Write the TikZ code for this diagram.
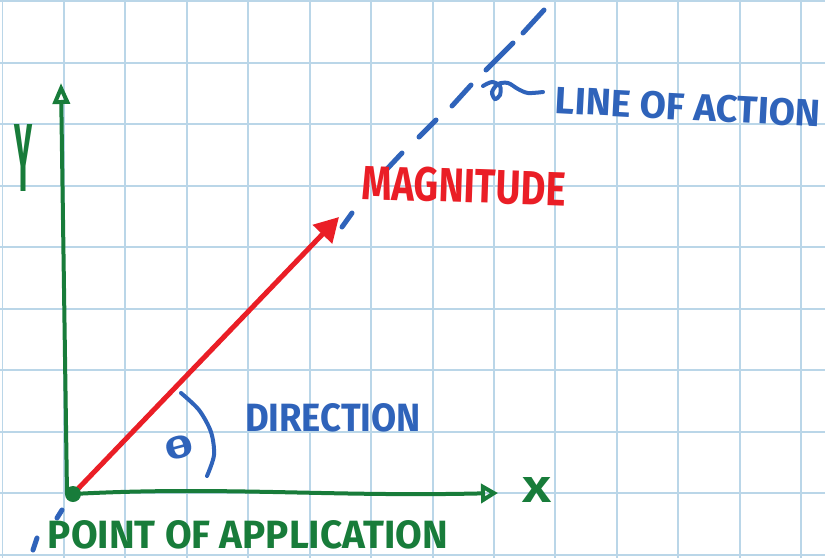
\documentclass[tikz,border=0pt]{standalone}
\usepackage{fontspec}
\setsansfont{Fira Sans}
\usetikzlibrary{arrows.meta}
\definecolor{gridblue}{RGB}{186,214,232}
\definecolor{penred}{RGB}{234,30,38}
\definecolor{pengreen}{RGB}{24,124,58}
\definecolor{penblue}{RGB}{47,99,186}
\newlength{\pxu}\setlength{\pxu}{0.02cm}
\newcommand{\hand}[3]{\resizebox{#1\pxu}{#2\pxu}{\sffamily\bfseries #3}}

\begin{document}
\begin{tikzpicture}[
  x=0.02cm,y=-0.02cm,
  gridline/.style={gridblue,line width=0.04cm},
  axis/.style={pengreen,line width=0.08cm,line cap=round,line join=round},
  force/.style={penred,line width=0.1cm,-{Triangle[length=0.48cm,width=0.52cm]}},
  action/.style={penblue,line width=0.1cm,line cap=round},
  stroke/.style={penblue,line width=0.08cm,line cap=round},
  label/.style={inner sep=0pt,anchor=center}
]
\useasboundingbox (0,0) rectangle (825,558);
\fill[white] (0,0) rectangle (825,558);
\foreach \i in {0,...,13}
  \draw[gridline] ({2.5+61.43*\i},0) -- ({2.5+61.43*\i},558);
\foreach \j in {0,...,9}
  \draw[gridline] (0,{1+61.5*\j}) -- (825,{1+61.5*\j});

\coordinate (O) at (73,494);
\coordinate (ybase) at (67,494);
\coordinate (ytip) at (61,83);
\coordinate (xtip) at (498,493);
\coordinate (ftip) at (339,217);

\draw[axis,-{Triangle[open,length=0.42cm,width=0.34cm]}] (ybase) -- (ytip);
\draw[axis,-{Triangle[open,length=0.34cm,width=0.38cm]}] (O) .. controls (220,486) and (330,497) .. (xtip);
\draw[force] (O) -- (ftip);
\fill[pengreen] (O) circle[radius=0.16cm];

\foreach \a/\b in {{342,227}/{352,213},{387,169}/{402,153},{419,137}/{436,120},
  {452,106}/{471,85},{486,70}/{513,43},{523,33}/{544,10},{57,518}/{62,510},{33,550}/{37,538}}
  \draw[action] (\a) -- (\b);
\draw[stroke] plot[smooth] coordinates {(483,86) (492,82) (500,86) (500,95) (495,99) (492,92) (498,84) (508,83) (518,89) (528,93) (543,92)};
\draw[stroke] plot[smooth] coordinates {(181,393) (199,410) (211,432) (214,455) (207,476)};

\node[label,penblue,rotate=-3] (action) at (688,107) {\hand{266}{27}{LINE OF ACTION}};
\node[label,penred,rotate=-2] (magnitude) at (464,186) {\hand{204}{34}{MAGNITUDE}};
\node[label,penblue] (direction) at (333,418) {\hand{176}{28}{DIRECTION}};
\node[label,penblue,rotate=15] (theta) at (179,447) {\hand{28}{22}{θ}};
\node[label,pengreen] (point) at (248,535) {\hand{400}{28}{POINT OF APPLICATION}};
\node[label,pengreen] (xlabel) at (537,490) {\hand{29}{25}{X}};
\node[label,pengreen] (ylabel) at (24,158) {\hand{18}{67}{Y}};
\end{tikzpicture}
\end{document}
